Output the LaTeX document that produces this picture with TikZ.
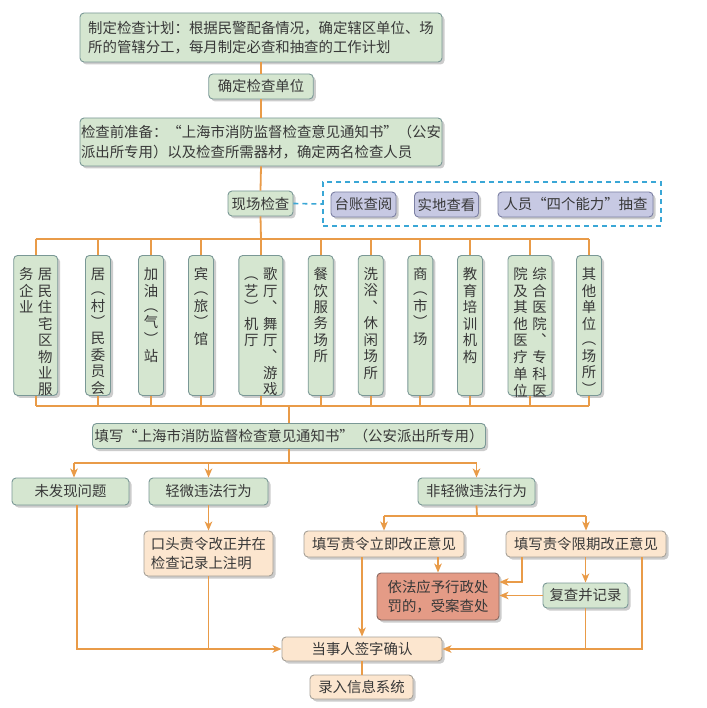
\documentclass[tikz,border=0pt]{standalone}
\usepackage{fontspec}
\setmainfont{Noto Sans CJK SC}
\usetikzlibrary{arrows.meta,shadows}
\definecolor{gfill}{HTML}{D5E6D0}
\definecolor{gdraw}{HTML}{7A9896}
\definecolor{bfill}{HTML}{FCE6CF}
\definecolor{bdraw}{HTML}{A6A198}
\definecolor{rfill}{HTML}{E49B86}
\definecolor{rdraw}{HTML}{8A6A62}
\definecolor{pfill}{HTML}{C7C9E3}
\definecolor{pdraw}{HTML}{7C80A4}
\definecolor{oline}{HTML}{E99B48}
\definecolor{cyanb}{HTML}{3AA7D6}
\definecolor{txt}{HTML}{383838}
\newcommand\vone[1]{\begin{tabular}[t]{@{}c@{}}#1\end{tabular}}
\newcommand\vtwo[1]{\begin{tabular}[t]{@{}c@{\hspace{4.6pt}}c@{}}#1\end{tabular}}
\begin{document}
\begin{tikzpicture}[x=1pt,y=-1pt,
  box/.style={rounded corners=4pt, line width=0.9pt, inner sep=0pt, text=txt,
    font=\fontsize{14.4}{19.5}\selectfont,
    drop shadow={shadow xshift=2.5pt,shadow yshift=-2.5pt,opacity=.33,fill=black!60}},
  gbox/.style={box, fill=gfill, draw=gdraw},
  bbox/.style={box, fill=bfill, draw=bdraw},
  rbox/.style={box, fill=rfill, draw=rdraw},
  pbox/.style={box, fill=pfill, draw=pdraw},
  vbox/.style={gbox, anchor=north, minimum height=140pt, text height=24pt, text depth=116pt,
    font=\fontsize{14.4}{15.2}\selectfont},
  sz/.style 2 args={minimum width=#1pt, minimum height=#2pt},
  ln/.style={draw=oline, line width=1.8pt},
  arr/.style={ln, -{Stealth[length=9pt,width=7.5pt,inset=2.5pt]}},
  dsh/.style={draw=cyanb, line width=1.6pt, dash pattern=on 5pt off 4pt},
]
\useasboundingbox[fill=white] (0,0) rectangle (706,708);

% top chain
\node[gbox, align=left, sz={362}{49}] (b1) at (261,37.5)
  {制定检查计划：根据民警配备情况，确定辖区单位、场\\所的管辖分工，每月制定必查和抽查的工作计划};
\node[gbox, sz={104.5}{25}] (b2) at (261,86.5) {确定检查单位};
\node[gbox, align=left, sz={362}{48}] (b3) at (261,142)
  {检查前准备：“上海市消防监督检查意见通知书”（公安\\派出所专用）以及检查所需器材，确定两名检查人员};
\node[gbox, sz={65}{25}] (xc) at (260.5,203.5) {现场检查};
\node[dsh, sz={338}{44}, inner sep=0pt] (grp) at (492,204) {};
\node[pbox, sz={65}{25}] (tz) at (363.5,204.5) {台账查阅};
\node[pbox, sz={64}{25}] (sd) at (446.5,204.5) {实地查看};
\node[pbox, sz={155}{25}] (ry) at (575.5,204.5) {人员“四个能力”抽查};

% vertical boxes
\node[vbox, minimum width=44pt] (v1) at (35.7,255) {\vtwo{务&居\\企&民\\业&住\\&宅\\&区\\&物\\&业\\&服}};
\node[vbox, minimum width=25pt] (v2) at (98,255) {\vone{居\\︵\\村\\︶\\民\\委\\员\\会}};
\node[vbox, minimum width=25pt] (v3) at (151,255) {\vone{加\\油\\︵\\气\\︶\\站}};
\node[vbox, minimum width=25pt] (v4) at (201,255) {\vone{宾\\︵\\旅\\︶\\馆}};
\node[vbox, minimum width=44pt] (v5) at (260.8,255) {\vtwo{︵&歌\\艺&厅\\︶&︑\\机&舞\\厅&厅\\&︑\\&游\\&戏}};
\node[vbox, minimum width=25pt] (v6) at (320.7,255) {\vone{餐\\饮\\服\\务\\场\\所}};
\node[vbox, minimum width=25pt] (v7) at (370.7,255) {\vone{洗\\浴\\︑\\休\\闲\\场\\所}};
\node[vbox, minimum width=25pt] (v8) at (420.3,255) {\vone{商\\︵\\市\\︶\\场}};
\node[vbox, minimum width=25pt] (v9) at (470,255) {\vone{教\\育\\培\\训\\机\\构}};
\node[vbox, minimum width=44pt] (v10) at (530,255) {\vtwo{院&综\\及&合\\其&医\\他&院\\医&︑\\疗&专\\单&科\\位&医}};
\node[vbox, minimum width=25pt] (v11) at (589,255) {\vone{其\\他\\单\\位\\︵\\场\\所\\︶}};

% lower part
\node[gbox, sz={393}{25}] (t4) at (289,436) {填写“上海市消防监督检查意见通知书”（公安派出所专用）};
\node[gbox, sz={117}{27}] (nf) at (70.5,491.5) {未发现问题};
\node[gbox, sz={119}{27}] (qw) at (208.5,491.5) {轻微违法行为};
\node[gbox, sz={117}{27}] (fq) at (476.5,491.5) {非轻微违法行为};
\node[bbox, align=left, sz={129}{45}] (kt) at (208.5,553.5) {口头责令改正并在\\检查记录上注明};
\node[bbox, sz={160}{26}] (lj) at (384,544) {填写责令立即改正意见};
\node[bbox, sz={160}{26}] (xq) at (586,544) {填写责令限期改正意见};
\node[rbox, align=left, sz={122}{47}] (red) at (438,596.5) {依法应予行政处\\罚的，受案查处};
\node[gbox, sz={85}{25}] (fc) at (585.5,595.5) {复查并记录};
\node[bbox, sz={160}{24}] (ds) at (362,649) {当事人签字确认};
\node[bbox, sz={103}{24}] (lr) at (361.5,687) {录入信息系统};

% connectors top
\draw[ln] (b1.south) -- (b2.north);
\draw[ln] (b2.south) -- (b3.north);
\draw[ln] (b3.south) -- (xc.north);
\draw[dsh] (xc.east) -- (grp.west);
\coordinate (bt) at (261,239);
\coordinate (bb) at (289,406);
\draw[ln] (xc.south) -- (bt);
\draw[ln] (v1.north |- bt) -- (v11.north |- bt);
\draw[ln] (v1.south |- bb) -- (v11.south |- bb);
\foreach \v in {v1,v2,v3,v4,v5,v6,v7,v8,v9,v10,v11}{
  \draw[ln] (\v.north) -- (\v.north |- bt);
  \draw[ln] (\v.south) -- (\v.south |- bb);
}
\draw[ln] (bb) -- (t4.north);

% connectors bottom
\coordinate (s1) at (289,463);
\coordinate (nfin) at ([xshift=3.5pt]nf.north);
\coordinate (nfout) at ([xshift=6.5pt]nf.south);
\draw[ln] (t4.south) -- (s1);
\draw[ln] (nfin |- s1) -- (fq.north |- s1);
\draw[arr] (nfin |- s1) -- (nfin);
\draw[arr] (qw.north |- s1) -- (qw.north);
\draw[arr] (fq.north |- s1) -- (fq.north);
\draw[arr] (qw.south) -- (kt.north);
\draw[arr] (nfout) |- (ds.west);
\draw[ln] (kt.south) -- (kt.south |- ds.west);

\coordinate (s2) at (477,516);
\draw[ln] (fq.south) -- (s2);
\draw[ln] (lj.north |- s2) -- (xq.north |- s2);
\draw[arr] (lj.north |- s2) -- (lj.north);
\draw[arr] (xq.north |- s2) -- (xq.north);
\draw[arr] (lj.south -| ds.north) -- (ds.north);
\draw[arr] (lj.south -| red.north) -- (red.north);
\coordinate (xl) at ([xshift=-64pt]xq.south);
\coordinate (re1) at ([yshift=14.5pt]red.east);
\draw[arr] (xl) |- (re1);
\draw[arr] (xq.south -| fc.north) -- (fc.north);
\draw[arr] (fc.west) -- (fc.west -| red.east);
\coordinate (xr) at ([xshift=56pt]xq.south);
\draw[arr] (xr) |- (ds.east);
\draw[ln] (fc.south) -- (fc.south |- ds.east);
\draw[ln] (ds.south) -- (ds.south |- lr.north);
\end{tikzpicture}
\end{document}
